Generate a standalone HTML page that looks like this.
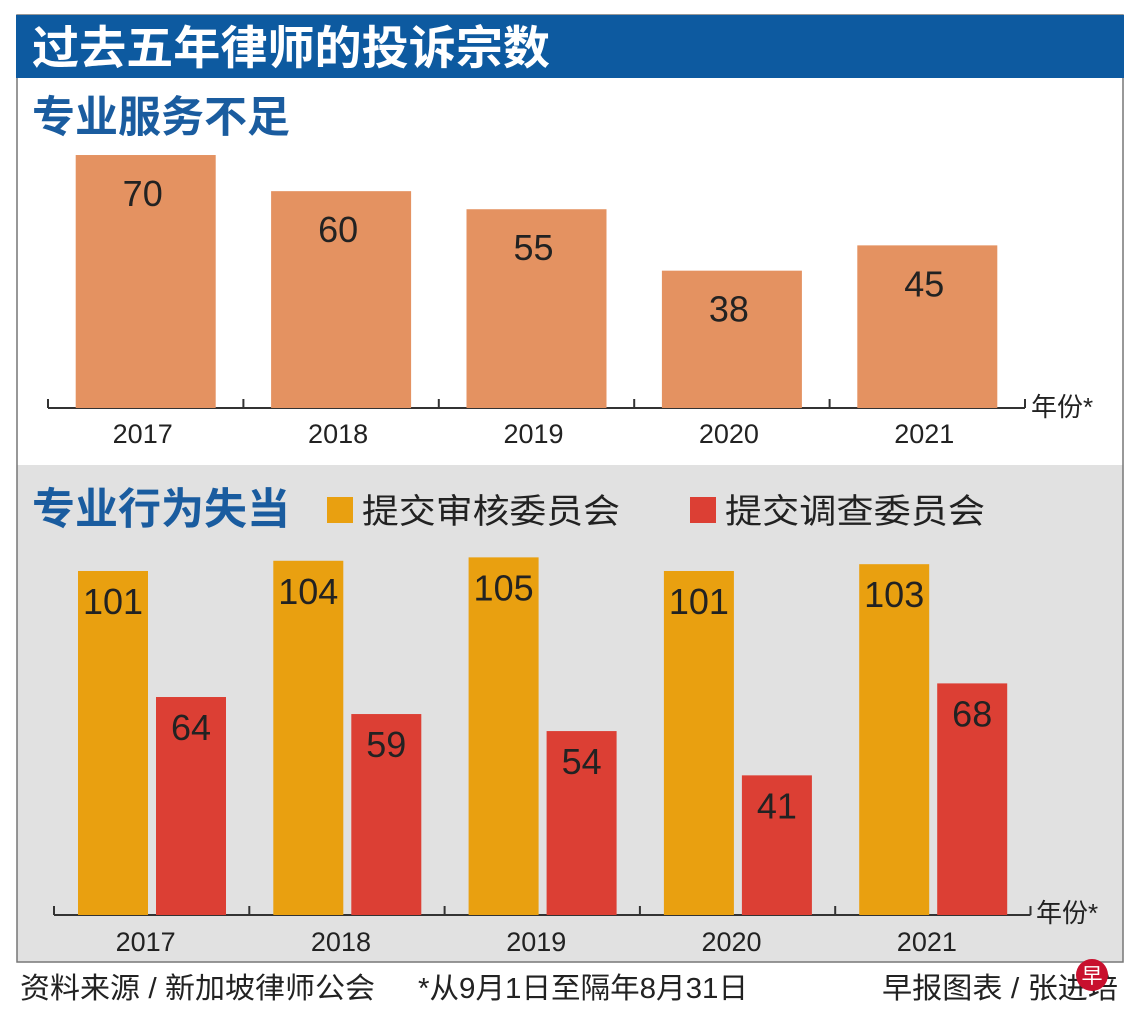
<!DOCTYPE html>
<html><head><meta charset="utf-8"><style>
body{margin:0;width:1140px;height:1022px;background:#fff;overflow:hidden;font-family:"Liberation Sans","Noto Sans CJK SC",sans-serif}
</style></head><body>
<svg id="s" width="1140" height="1022" xmlns="http://www.w3.org/2000/svg" font-family="Liberation Sans, Noto Sans CJK SC, sans-serif">
<rect x="17" y="465" width="1106" height="497" fill="#e1e1e1"/>
<rect x="17" y="15" width="1106" height="947" fill="none" stroke="#777" stroke-width="1.5"/>
<rect x="16" y="15" width="1108" height="63" fill="#0d5aa0"/>
<text x="32" y="64" font-size="46" font-weight="bold" fill="#fff" textLength="518" lengthAdjust="spacingAndGlyphs">过去五年律师的投诉宗数</text>
<text x="32" y="132" font-size="43" font-weight="bold" fill="#1a5c9f" textLength="258" lengthAdjust="spacingAndGlyphs">专业服务不足</text>
<text x="32" y="524" font-size="43" font-weight="bold" fill="#1a5c9f" textLength="258" lengthAdjust="spacingAndGlyphs">专业行为失当</text>
<rect x="327" y="497" width="26" height="26" fill="#e9a010"/>
<text x="362" y="523" font-size="34" fill="#222" textLength="258" lengthAdjust="spacingAndGlyphs">提交审核委员会</text>
<rect x="690" y="497" width="26" height="26" fill="#dc3f34"/>
<text x="725" y="523" font-size="34" fill="#222" textLength="260" lengthAdjust="spacingAndGlyphs">提交调查委员会</text>
<g id="topg"></g><g id="botg"></g>
<text x="20" y="998" font-size="29" fill="#222" textLength="355" lengthAdjust="spacingAndGlyphs">资料来源 / 新加坡律师公会</text>
<text x="418" y="998" font-size="29" fill="#222" textLength="330" lengthAdjust="spacingAndGlyphs">*从9月1日至隔年8月31日</text>
<text x="882" y="998" font-size="29" fill="#222" textLength="236" lengthAdjust="spacingAndGlyphs">早报图表 / 张进培</text>
<circle cx="1092" cy="975" r="16" fill="#c8102e"/>
<text x="1092" y="983" font-size="21" fill="#fff" text-anchor="middle">早</text>
</svg>
<script>
const years=["2017","2018","2019","2020","2021"];
const serviceVals=[70,60,55,38,45];
const reviewVals=[101,104,105,101,103];
const investVals=[64,59,54,41,68];
const NS="http://www.w3.org/2000/svg";
function mk(p,t,a,txt){const e=document.createElementNS(NS,t);for(const k in a)e.setAttribute(k,a[k]);if(txt!==undefined)e.textContent=txt;p.appendChild(e);return e;}
const topG=document.getElementById('topg');
const tx0=48,tstep=195.4,tbase=408,tscale=3.614;
const ty=v=>tbase-v*tscale;
mk(topG,'line',{x1:tx0,y1:tbase,x2:tx0+5*tstep,y2:tbase,stroke:'#333','stroke-width':2});
for(let i=0;i<=5;i++){const l=mk(topG,'line',{x1:tx0+i*tstep,y1:tbase-9,x2:tx0+i*tstep,y2:tbase,stroke:'#333','stroke-width':2});

}
years.forEach((y,i)=>{
 const cx=tx0+(i+0.5)*tstep;
 const r=mk(topG,'rect',{x:cx-70,y:ty(serviceVals[i]),width:140,height:serviceVals[i]*tscale,fill:'#e49261'});
 
 
 const t=mk(topG,'text',{x:cx-3,y:ty(serviceVals[i])+51,'font-size':36,'text-anchor':'middle',fill:'#222'},serviceVals[i]);
 
 
 const yl=mk(topG,'text',{x:cx-3,y:443,'font-size':27,'text-anchor':'middle',fill:'#222'},y);
 
 
});
const ta=mk(topG,'text',{x:1031,y:416,'font-size':26,fill:'#222'},'年份*');


const botG=document.getElementById('botg');
const bx0=54,bstep=195.3,bbase=915,bscale=3.406;
const by=v=>bbase-v*bscale;
mk(botG,'line',{x1:bx0,y1:bbase,x2:bx0+5*bstep,y2:bbase,stroke:'#333','stroke-width':2});
for(let i=0;i<=5;i++){const l=mk(botG,'line',{x1:bx0+i*bstep,y1:bbase-9,x2:bx0+i*bstep,y2:bbase,stroke:'#333','stroke-width':2});

}
years.forEach((y,i)=>{
 const gx=bx0+i*bstep+24;
 const r1=mk(botG,'rect',{x:gx,y:by(reviewVals[i]),width:70,height:reviewVals[i]*bscale,fill:'#e9a010'});
 
 
 const t1=mk(botG,'text',{x:gx+35,y:by(reviewVals[i])+43,'font-size':36,'text-anchor':'middle',fill:'#222'},reviewVals[i]);
 
 
 const r2=mk(botG,'rect',{x:gx+78,y:by(investVals[i]),width:70,height:investVals[i]*bscale,fill:'#dc3f34'});
 
 
 const t2=mk(botG,'text',{x:gx+113,y:by(investVals[i])+43,'font-size':36,'text-anchor':'middle',fill:'#222'},investVals[i]);
 
 
 const yl=mk(botG,'text',{x:bx0+(i+0.5)*bstep-6,y:951,'font-size':27,'text-anchor':'middle',fill:'#222'},y);
 
 
});
const ba=mk(botG,'text',{x:1036,y:922,'font-size':26,fill:'#222'},'年份*');


</script>
</body></html>
